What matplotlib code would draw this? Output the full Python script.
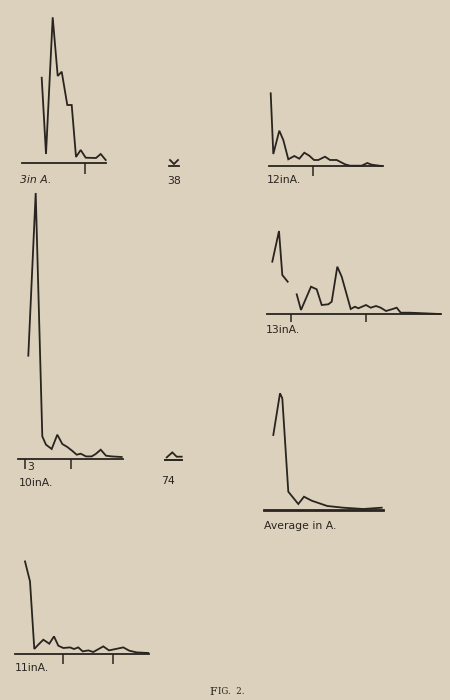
import matplotlib
matplotlib.use("Agg")
import matplotlib.pyplot as plt

BG = "#dcd1bd"
INK = "#29241f"

# Chaque tracé : x = distance le long de la ligne de base, y = hauteur au-dessus
s3_x = [19.7, 24, 30.7, 35.7, 39.7, 45.3, 49.7, 54, 58.7, 63.7, 74, 78.7, 83.7]
s3_y = [85.3, 9, 145.7, 87, 91.3, 58, 58, 6, 13, 5.3, 5, 9, 3]
s3_ticks = [63]

s12_x = [1.7, 4.3, 10.3, 14.3, 19.3, 25.3, 30.3, 35.3, 40.3, 45, 49.3, 56, 61, 67.7,
         76, 81, 92.7, 98.3, 102.7, 112.7]
s12_y = [72.7, 12, 35.3, 26, 6.7, 10, 7.3, 13.3, 10.3, 6, 6, 9.3, 6, 6,
         1.7, 0.3, 0.3, 3, 1.3, 0]
s12_ticks = [44]

s13a_x = [5.3, 12, 15.3, 20.7]
s13a_y = [52.3, 83, 39, 32.3]
s13b_x = [29.7, 34, 44, 49.7, 54.7, 61.3, 64.7, 70.3, 74.7, 83.7, 88, 91.3, 99, 103.7,
          109, 113.7, 119, 125.7, 129.7, 133.7, 143, 173]
s13b_y = [19.7, 4, 27.3, 24.7, 9, 9.7, 12.3, 47.3, 37.3, 5, 7.3, 5.7, 9, 6.3,
          8, 6.3, 3, 5, 6.3, 1.3, 1.3, 0]
s13_ticks = [24, 99]

avg_x = [9.3, 16, 18.3, 24.3, 34.3, 40, 47.7, 63.3, 79.3, 99.3, 117.7]
avg_y = [75, 116.7, 111.7, 18.3, 6, 13.3, 9.3, 4, 2.3, 1, 2.3]

s10_x = [10.3, 17.7, 24.3, 28, 33.7, 39.3, 44.3, 49.3, 53.7, 58.7, 62.7, 68, 73.7,
         77.7, 82.7, 88, 93.7, 103.7]
s10_y = [103.3, 266, 22.6, 14.3, 10, 24.3, 15, 12, 8.6, 4.3, 5.3, 2.6, 2.6,
         5, 9.3, 3.3, 2.6, 2]
s10_ticks = [7, 53]

s11_x = [10, 15, 19.3, 23.3, 28.3, 34.3, 39, 43.3, 48.3, 55, 59, 63.3, 67.7, 73.3,
         78.3, 88.3, 94, 108.3, 114.3, 121.7, 133.3]
s11_y = [92.6, 72.6, 5, 9.3, 14.3, 10.3, 17.6, 8.3, 6, 6.6, 5, 6.6, 2.6, 3.6,
         2, 7.6, 3.6, 6.6, 3.3, 1.6, 1]
s11_ticks = [48.3, 98.3]

m38_x = [1, 5, 9]
m38_y = [6, 2, 6]
m74_x = [1.7, 7.3, 11.7, 16.7]
m74_y = [2.6, 7.6, 3.3, 3.3]

fig = plt.figure(figsize=(4.5, 7), dpi=100, facecolor=BG)


def panel(left, base, width, height, ticks=(), base_lw=1.3, tick_len=7):
    # left/base en pixels de l'image, hauteur de l'axe en pixels
    ax = fig.add_axes([left / 450, (700 - base) / 700, width / 450, height / 700])
    ax.set_xlim(0, width)
    ax.set_ylim(0, height)
    ax.patch.set_visible(False)
    for side in ["top", "right", "left"]:
        ax.spines[side].set_visible(False)
    ax.spines["bottom"].set_color(INK)
    ax.spines["bottom"].set_linewidth(base_lw)
    ax.set_xticks(list(ticks))
    ax.set_yticks([])
    ax.tick_params(axis="x", direction="out", length=tick_len, width=1.1,
                   color=INK, labelbottom=False)
    return ax


def trace(ax, x, y):
    ax.plot(x, y, color=INK, lw=1.3, clip_on=False, solid_joinstyle="miter")


lab = dict(color=INK, fontsize=7.8, family="DejaVu Sans", va="center", ha="left")

# 3 in A.
ax = panel(22, 163, 84, 150, s3_ticks, tick_len=8)
trace(ax, s3_x, s3_y)
ax.text(-2, -17, "3in A.", style="italic", **lab)

# 12 in A.
ax = panel(269, 166, 114, 80, s12_ticks)
trace(ax, s12_x, s12_y)
ax.text(-2, -14, "12inA.", **lab)

# 13 in A.
ax = panel(267, 314, 174, 90, s13_ticks, tick_len=6)
trace(ax, s13a_x, s13a_y)
trace(ax, s13b_x, s13b_y)
ax.text(-1, -16, "13inA.", **lab)

# Average in A.
ax = panel(264, 510, 119, 125, base_lw=2.0)
trace(ax, avg_x, avg_y)
ax.text(0, -16, "Average in A.", **lab)

# 10 in A.
ax = panel(18, 459, 105, 275, s10_ticks)
trace(ax, s10_x, s10_y)
ax.text(9, -8, "3", **lab)
ax.text(1, -24, "10inA.", **lab)

# 11 in A.
ax = panel(15, 654, 134, 100, s11_ticks)
trace(ax, s11_x, s11_y)
ax.text(0, -14, "11inA.", **lab)

# petits signes 38 et 74
ax = panel(169, 166, 10, 8)
trace(ax, m38_x, m38_y)
ax.text(5, -15, "38", color=INK, fontsize=7.8, ha="center", va="center")

ax = panel(165, 460, 17, 10, base_lw=1.4)
trace(ax, m74_x, m74_y)
ax.text(3, -21, "74", color=INK, fontsize=7.8, ha="center", va="center")

fig.text(209 / 450, 1 - 692 / 700, "F", color=INK, fontsize=7.8,
         family="DejaVu Serif", va="center", ha="left")
fig.text(217.5 / 450, 1 - 692 / 700, "IG.  2.", color=INK, fontsize=6.2,
         family="DejaVu Serif", va="center", ha="left")

fig.savefig("out.png", dpi=100, facecolor=BG)
